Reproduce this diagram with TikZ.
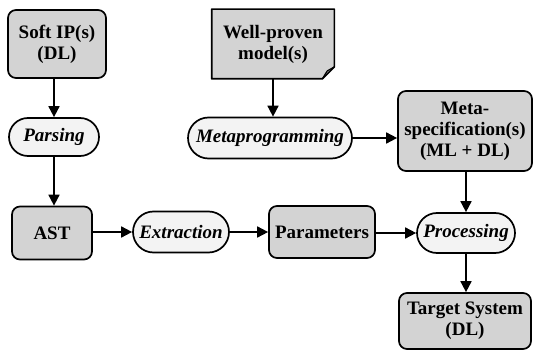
\documentclass[tikz,border=0pt]{standalone}
\usepackage{fontspec}
\setmainfont{Liberation Serif}
\usetikzlibrary{shapes.misc,arrows.meta}
\definecolor{boxgray}{HTML}{D3D3D3}
\definecolor{procgray}{HTML}{F3F3F3}
\tikzset{
  base/.style={line width=1.7pt, align=center, inner sep=1pt,
    font=\fontsize{19}{21}\selectfont\bfseries},
  databox/.style={base, draw, fill=boxgray, rounded corners=8pt},
  procbox/.style={base, draw, fill=procgray, rounded rectangle,
    font=\fontsize{19}{21}\selectfont\bfseries\itshape},
  conn/.style={line width=1.7pt, -{Triangle[length=11pt,width=11pt]}}
}
\begin{document}
\begin{tikzpicture}[x=1pt,y=-1pt]
\useasboundingbox (0,0) rectangle (534,352);
\node[databox, minimum width=98pt, minimum height=68pt] (soft) at (57,44) {Soft IP(s)\\(DL)};
\node[base, minimum width=121pt, minimum height=68pt] (wp) at (273,44) {};
\fill[boxgray] (wp.north west) -- (wp.north east) -- ([yshift=12pt]wp.south east) -- ([xshift=-12pt]wp.south east) -- (wp.south west) -- cycle;
\draw[line width=1.7pt, line join=round] (wp.north west) -- (wp.north east) -- ([yshift=12pt]wp.south east) -- ([xshift=-12pt]wp.south east) -- (wp.south west) -- cycle;
\draw[line width=1.2pt, line join=round] ([xshift=-12pt]wp.south east) .. controls ([xshift=-9pt,yshift=5pt]wp.south east) .. ([xshift=-7pt,yshift=8pt]wp.south east) -- ([yshift=12pt]wp.south east);
\node[base] at (wp) {Well-proven\\model(s)};
\node[procbox, minimum width=92pt, minimum height=38pt] (parse) at (54,137) {Parsing};
\node[procbox, minimum width=166pt, minimum height=41pt] (meta) at (270,138) {Metaprogramming};
\node[databox, minimum width=134pt, minimum height=80pt] (ms) at (465,131) {Meta-\\specification(s)\\(ML + DL)};
\node[databox, minimum width=80pt, minimum height=53pt] (ast) at (52,233) {AST};
\node[procbox, minimum width=98pt, minimum height=41pt] (ext) at (181,232) {Extraction};
\node[databox, minimum width=106pt, minimum height=52pt] (par) at (322,232) {Parameters};
\node[procbox, minimum width=100pt, minimum height=40pt] (proc) at (466,233) {Processing};
\node[databox, minimum width=132pt, minimum height=56pt] (tgt) at (465,321) {Target System\\(DL)};
\draw[conn] (parse.north |- soft.south) -- (parse.north);
\draw[conn] (wp.south) -- (wp.south |- meta.north);
\draw[conn] (meta.east) -- (meta.east -| ms.west);
\draw[conn] (parse.south) -- (parse.south |- ast.north);
\draw[conn] (ast.east |- ext.west) -- (ext.west);
\draw[conn] (ext.east) -- (ext.east -| par.west);
\draw[conn] (par.east |- proc.west) -- (proc.west);
\draw[conn] (proc.north |- ms.south) -- (proc.north);
\draw[conn] (proc.south) -- (proc.south |- tgt.north);
\end{tikzpicture}
\end{document}
